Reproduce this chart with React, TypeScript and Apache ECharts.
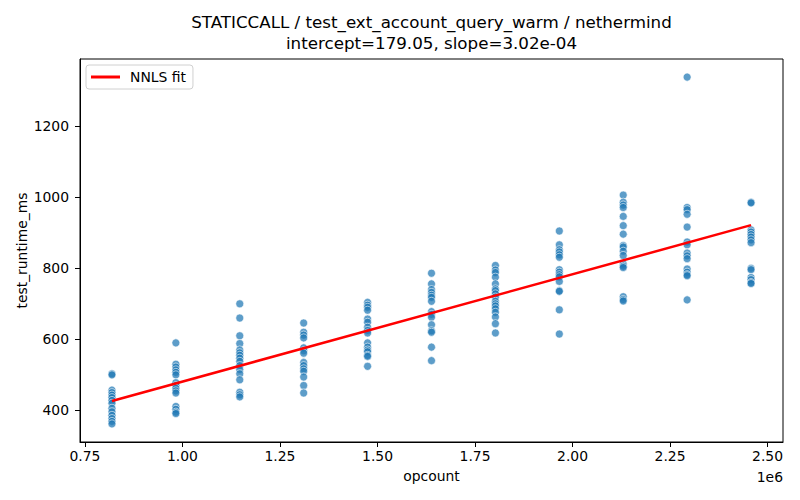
import React, { useEffect, useRef } from "react";
import * as echarts from "echarts";

const opcounts = [819200, 983040, 1146880, 1310720, 1474560, 1638400, 1802240, 1966080, 2129920, 2293760, 2457600];

const runtime1 = [503, 500, 457, 450, 443, 436, 428, 420, 406, 396, 386, 377, 369, 362];
const runtime2 = [590, 530, 522, 514, 507, 500, 478, 470, 462, 455, 449, 411, 403, 395, 391];
const runtime3 = [700, 660, 610, 588, 570, 562, 555, 547, 538, 526, 515, 503, 486, 451, 444, 438];
const runtime4 = [646, 620, 612, 604, 576, 568, 561, 535, 526, 517, 510, 494, 470, 449];
const runtime5 = [704, 696, 690, 682, 657, 648, 634, 625, 618, 590, 578, 570, 565, 555, 552, 524];
const runtime6 = [786, 756, 740, 732, 724, 718, 707, 678, 670, 662, 641, 624, 620, 578, 540];
const runtime7 = [808, 795, 788, 775, 756, 742, 737, 728, 719, 707, 700, 694, 686, 676, 663, 644, 618];
const runtime8 = [905, 866, 852, 846, 838, 831, 796, 789, 782, 776, 763, 737, 735, 683, 615];
const runtime9 = [1006, 986, 978, 971, 946, 920, 896, 864, 860, 848, 836, 812, 806, 802, 720, 712, 708];
const runtime10 = [1338, 971, 965, 952, 916, 874, 866, 843, 835, 827, 798, 789, 782, 779, 711];
const runtime11 = [986, 984, 908, 902, 895, 888, 880, 872, 800, 796, 774, 768, 760, 757];

const runtimes = [runtime1, runtime2, runtime3, runtime4, runtime5, runtime6, runtime7, runtime8, runtime9, runtime10, runtime11];

const fitX = [819200, 2457600];
const fitY = [426.4, 921.3];

const xTicks = [750000, 1000000, 1250000, 1500000, 1750000, 2000000, 2250000, 2500000];
const yTicks = [400, 600, 800, 1000, 1200];

const titleLine1 = "STATICCALL / test_ext_account_query_warm / nethermind";
const titleLine2 = "intercept=179.05, slope=3.02e-04";

const FONT = "DejaVu Sans";

export default function App() {
  const ref = useRef<HTMLDivElement>(null);
  useEffect(() => {
    document.body.style.margin = "0";
    if (!ref.current) return;
    const chart = echarts.init(ref.current, null, { renderer: "svg" });
    const scatterData: number[][] = [];
    opcounts.forEach((x, i) => {
      runtimes[i].forEach((v) => scatterData.push([x, v]));
    });
    const fitData = fitX.map((x, i) => [x, fitY[i]]);
    chart.setOption({
      animation: false,
      backgroundColor: "#fff",
      textStyle: { fontFamily: FONT },
      grid: {
        left: 80,
        right: 17,
        top: 59,
        bottom: 58,
        show: true,
        borderColor: "#000",
        borderWidth: 1,
        backgroundColor: "transparent",
      },
      legend: {
        left: 86,
        top: 65,
        data: [{ name: "NNLS fit", icon: "rect" }],
        itemWidth: 29,
        itemHeight: 3,
        padding: [5, 7, 5, 5],
        backgroundColor: "#fff",
        borderColor: "#d0d0d0",
        borderWidth: 1,
        borderRadius: 3,
        textStyle: { fontFamily: FONT, fontSize: 13.9, color: "#000", padding: [0, 0, 0, 5] },
      },
      xAxis: {
        type: "value",
        min: 737280,
        max: 2539520,
        name: "opcount",
        nameLocation: "middle",
        nameGap: 27,
        nameMoveOverlap: false,
        nameTextStyle: { fontFamily: FONT, fontSize: 13.9, color: "#000" },
        axisLine: { show: true, onZero: false, lineStyle: { color: "#000", width: 1 } },
        axisTick: { show: true, customValues: xTicks, length: 5, lineStyle: { color: "#000", width: 1 } },
        axisLabel: {
          customValues: xTicks,
          margin: 7,
          fontFamily: FONT,
          fontSize: 13.9,
          color: "#000",
          formatter: (v: number) => (v / 1e6).toFixed(2),
        },
        splitLine: { show: false },
      },
      yAxis: {
        type: "value",
        min: 311,
        max: 1389,
        name: "test_runtime_ms",
        nameLocation: "middle",
        nameGap: 51,
        nameMoveOverlap: false,
        nameTextStyle: { fontFamily: FONT, fontSize: 13.9, color: "#000" },
        axisLine: { show: true, onZero: false, lineStyle: { color: "#000", width: 1 } },
        axisTick: { show: true, customValues: yTicks, length: 5, lineStyle: { color: "#000", width: 1 } },
        axisLabel: {
          customValues: yTicks,
          margin: 11,
          fontFamily: FONT,
          fontSize: 13.9,
          color: "#000",
          formatter: (v: number) => String(v),
        },
        splitLine: { show: false },
      },
      graphic: [
        {
          type: "text",
          x: 431.5,
          y: 22,
          style: {
            text: titleLine1,
            textAlign: "center",
            textVerticalAlign: "middle",
            fontFamily: FONT,
            fontSize: 16.7,
            fill: "#000",
          },
        },
        {
          type: "text",
          x: 431.5,
          y: 43,
          style: {
            text: titleLine2,
            textAlign: "center",
            textVerticalAlign: "middle",
            fontFamily: FONT,
            fontSize: 16.7,
            fill: "#000",
          },
        },
        {
          type: "text",
          x: 783,
          y: 477,
          style: {
            text: "1e6",
            textAlign: "right",
            textVerticalAlign: "middle",
            fontFamily: FONT,
            fontSize: 13.9,
            fill: "#000",
          },
        },
      ],
      series: [
        {
          name: "runtime",
          type: "scatter",
          data: scatterData,
          symbolSize: 8,
          itemStyle: { color: "#1f77b4", opacity: 0.72, borderColor: "#fff", borderWidth: 0.8 },
          z: 2,
        },
        {
          name: "NNLS fit",
          type: "line",
          data: fitData,
          showSymbol: false,
          symbol: "none",
          lineStyle: { color: "#ff0000", width: 2.5 },
          itemStyle: { color: "#ff0000" },
          z: 3,
        },
      ],
    });
    return () => chart.dispose();
  }, []);
  return <div ref={ref} style={{ width: 800, height: 500 }} />;
}
